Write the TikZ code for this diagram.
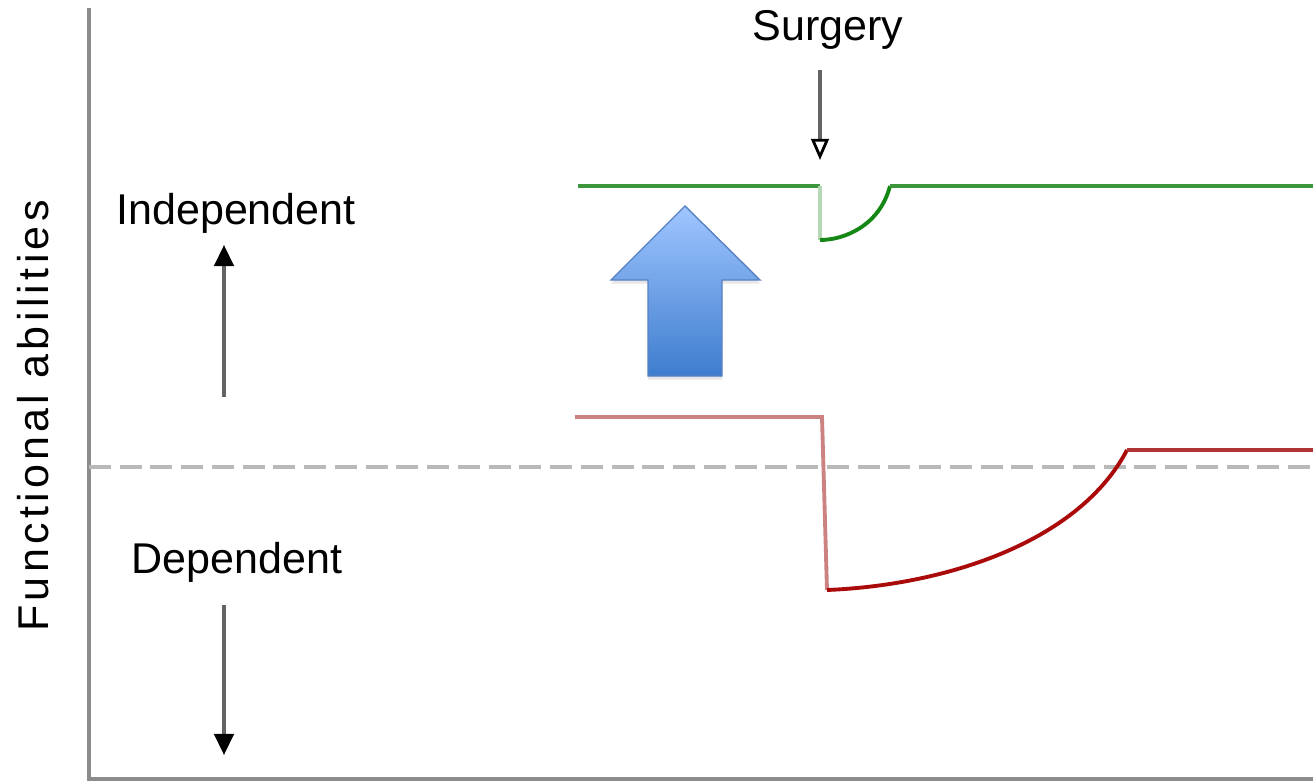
\documentclass[tikz,border=0pt]{standalone}
\usepackage{fontspec}
\setmainfont{Liberation Sans}
\usetikzlibrary{arrows.meta, shadows}
\definecolor{axisgray}{RGB}{140,140,140}
\definecolor{dashgray}{RGB}{185,185,185}
\definecolor{arrowgray}{RGB}{100,100,100}
\definecolor{greenline}{RGB}{60,150,60}
\definecolor{greenpale}{RGB}{180,215,180}
\definecolor{greendark}{RGB}{20,135,20}
\definecolor{redline}{RGB}{176,52,52}
\definecolor{redpale}{RGB}{205,130,130}
\definecolor{reddark}{RGB}{170,10,10}
\definecolor{bluetop}{RGB}{160,198,255}
\definecolor{bluebottom}{RGB}{62,125,206}
\definecolor{blueedge}{RGB}{88,128,196}
\newcommand{\lbl}{\fontsize{24.5}{29}\selectfont}

\begin{document}
\begin{tikzpicture}[x=0.02cm, y=-0.02cm,
    >={Triangle[width=11pt, length=12pt, color=black]},
    curve/.style={line width=2.2pt},
    updown/.style={->, arrowgray, line width=2pt}]
  \useasboundingbox (0,0) rectangle (1313,784);
  \coordinate (T) at (89,8);
  \coordinate (O) at (89,779);
  \coordinate (E) at (1313,779);
  \coordinate (L) at (89,467);
  \coordinate (R) at (1313,467);

  \draw[axisgray, line width=2.2pt] (T) -- (O) -- (E);
  % border between dependent and independent
  \draw[dashgray, line width=2.8pt, dash pattern=on 12.5pt off 5pt] (L) -- (R);

  \node[rotate=90, font={\lbl\addfontfeature{LetterSpace=10}}] (fa) at (33,416) {Functional abilities};
  \node[font=\lbl] (indep) at (236,213) {Independent};
  \node[font=\lbl] (dep) at (237,562) {Dependent};
  \node[font=\lbl] (surg) at (828,30) {Surgery};

  \coordinate (iu0) at (224,397);
  \coordinate (iu1) at (224,245);
  \coordinate (dd0) at (224,605);
  \coordinate (dd1) at (224,755);
  \draw[updown] (iu0) -- (iu1);
  \draw[updown] (dd0) -- (dd1);

  \coordinate (s0) at (820,70);
  \coordinate (s1) at (820,160);
  \draw[arrowgray, line width=2pt, -{Triangle[open, width=10pt, length=12pt, fill=white, line width=1.6pt, color=black]}] (s0) -- (s1);

  % with the intervention
  \draw[curve, greenline] (578,186) -- (820,186);
  \draw[curve, greenpale] (820,186) -- (820,240);
  \draw[curve, greendark] (820,240) .. controls (845,240) and (880,225) .. (890,186);
  \draw[curve, greenline] (890,186) -- (1313,186);

  % without
  \draw[curve, redpale] (575,417) -- (822,417) -- (827,590);
  \draw[curve, reddark] (827,590) .. controls (950,585) and (1080,540) .. (1127,450);
  \draw[curve, redline] (1127,450) -- (1313,450);

  % big arrow
  \draw[blueedge, line width=0.8pt, top color=bluetop, bottom color=bluebottom,
        drop shadow={opacity=0.2, shadow xshift=0pt, shadow yshift=-2pt}]
    (648,376) -- (648,280) -- (611,280) -- (685,206) -- (760,280)
    -- (722,280) -- (722,376) -- cycle;
\end{tikzpicture}
\end{document}
